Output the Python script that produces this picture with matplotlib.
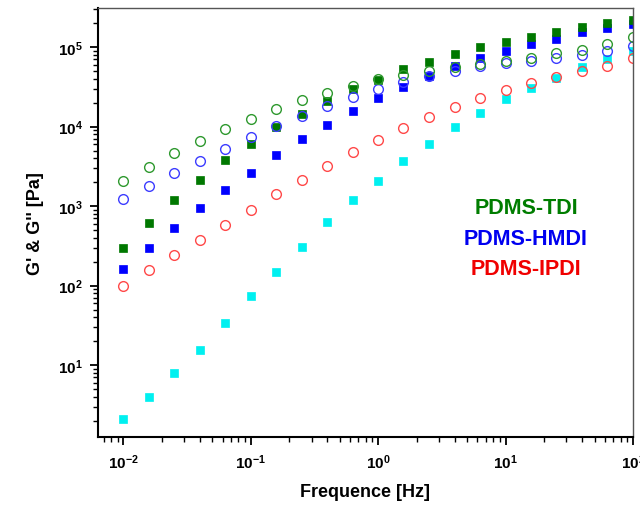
import numpy as np
import matplotlib
matplotlib.use("Agg")
import matplotlib.pyplot as plt
from matplotlib.ticker import LogLocator, FuncFormatter, NullFormatter

plt.rcParams['font.family'] = ['Liberation Sans', 'DejaVu Sans']
plt.rcParams['font.weight'] = 'bold'
plt.rcParams['mathtext.fontset'] = 'custom'
plt.rcParams['mathtext.rm'] = 'Liberation Sans:bold'
plt.rcParams['mathtext.bf'] = 'Liberation Sans:bold'
plt.rcParams['mathtext.it'] = 'Liberation Sans:bold'

# Frequency sweep: 5 points per decade from 0.01 to 100 Hz
freq = [0.01, 0.0158, 0.0251, 0.0398, 0.0631, 0.1, 0.158, 0.251, 0.398, 0.631,
        1.0, 1.58, 2.51, 3.98, 6.31, 10.0, 15.8, 25.1, 39.8, 63.1, 100.0]

tdi_storage = [297, 611, 1190, 2120, 3760, 6080, 9780, 14400, 20700, 29600,
               38800, 52900, 65300, 81600, 99100, 116600, 134900, 153000, 177000, 198700, 220000]
tdi_loss = [2050, 3070, 4600, 6630, 9220, 12540, 16600, 21550, 26600, 32300,
            39600, 44500, 50300, 55600, 61100, 67300, 73300, 83400, 92500, 109000, 136000]

hmdi_storage = [161, 299, 528, 944, 1590, 2620, 4340, 6900, 10500, 15700,
                22800, 31100, 42800, 58200, 72100, 89800, 109000, 126000, 153000, 172000, 195000]
hmdi_loss = [1225, 1785, 2600, 3680, 5260, 7440, 10240, 13430, 17950, 23300,
             29600, 36000, 43600, 50300, 58200, 62400, 67300, 72700, 79300, 88300, 104000]

ipdi_storage = [2.09, 3.99, 7.93, 15.6, 33.7, 73.1, 149, 308, 624, 1190,
                2080, 3650, 6020, 9940, 14790, 22200, 30250, 40400, 55600, 70700, 89800]
ipdi_loss = [99.4, 157, 240, 373, 582, 898, 1400, 2120, 3180, 4730,
             6820, 9580, 13300, 17700, 22800, 29000, 35200, 42300, 49400, 58200, 72100]

legend_labels = ["PDMS-TDI", "PDMS-HMDI", "PDMS-IPDI"]
legend_colors = ["#007d00", "#0000f0", "#f00000"]

fig = plt.figure(figsize=(6.4, 5.1), dpi=100)
ax = fig.add_axes([0.153, 0.141, 0.836, 0.841])

sq = dict(marker='s', linestyle='none', markersize=6.2, markeredgewidth=0.5)
oc = dict(marker='o', linestyle='none', markersize=7, markerfacecolor='none', markeredgewidth=1.0)

ax.plot(freq, ipdi_storage, color='#00f0f0', **sq)
ax.plot(freq, hmdi_storage, color='#0000ff', **sq)
ax.plot(freq, tdi_storage, color='#007800', **sq)
ax.plot(freq, ipdi_loss, markeredgecolor='#ff4848', **oc)
ax.plot(freq, hmdi_loss, markeredgecolor='#3c3cff', **oc)
ax.plot(freq, tdi_loss, markeredgecolor='#2e992e', **oc)

ax.set_xscale('log')
ax.set_yscale('log')
ax.set_xlim(10 ** -2.2, 100)
ax.set_ylim(10 ** 0.094, 10 ** 5.49)

def pow_fmt(v, pos):
    e = int(round(np.log10(v)))
    return r'$\mathbf{10^{%d}}$' % e

for axis in (ax.xaxis, ax.yaxis):
    axis.set_major_locator(LogLocator(base=10, numticks=20))
    axis.set_minor_locator(LogLocator(base=10, subs=np.arange(2, 10), numticks=20))
    axis.set_major_formatter(FuncFormatter(pow_fmt))
    axis.set_minor_formatter(NullFormatter())

ax.tick_params(which='major', direction='out', length=6, width=1.3, labelsize=11, pad=5)
ax.tick_params(which='minor', direction='out', length=3.5, width=1.0)
ax.tick_params(top=False, right=False, which='both')

ax.spines['left'].set_linewidth(1.5)
ax.spines['bottom'].set_linewidth(1.5)
ax.spines['top'].set_linewidth(1.0)
ax.spines['right'].set_linewidth(1.0)
ax.spines['top'].set_color('#555555')
ax.spines['right'].set_color('#555555')

ax.set_xlabel('Frequence [Hz]', fontsize=13, fontweight='bold', labelpad=9)
ax.set_ylabel("G' & G'' [Pa]", fontsize=13, fontweight='bold', labelpad=10)

for i, (lab, col) in enumerate(zip(legend_labels, legend_colors)):
    ax.text(0.80, 0.535 - i * 0.071, lab, transform=ax.transAxes, color=col,
            fontsize=15.5, fontweight='bold', ha='center', va='center')

fig.savefig('out.png', dpi=100)
